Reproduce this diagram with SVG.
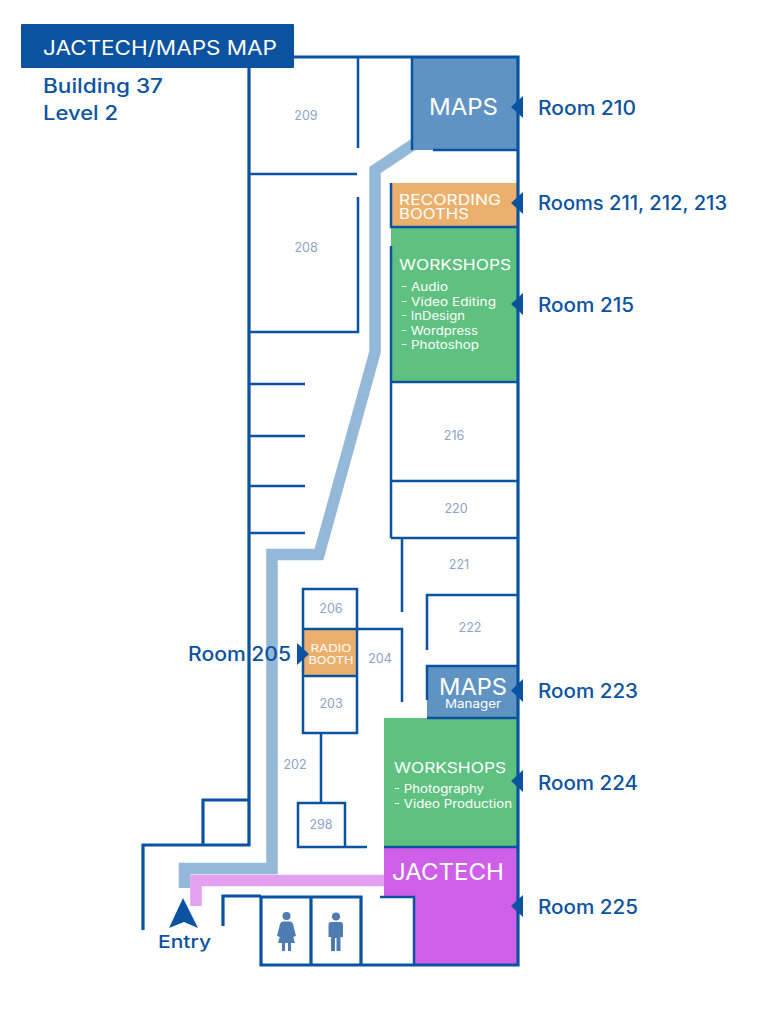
<svg xmlns="http://www.w3.org/2000/svg" width="766" height="1024" viewBox="0 0 766 1024">
<style>
text{font-family:Inter,"Liberation Sans",sans-serif}
.w{fill:none;stroke:#0b53a0;stroke-width:2.500}
.t{fill:none;stroke:#0b53a0;stroke-width:3.200}
.lab{fill:#0b53a0;font-size:19.500px;font-weight:500}
.num{fill:#8da3c7;font-size:12.500px;text-anchor:middle}
.h{fill:#fff;font-weight:400}
.li{fill:#fff;font-size:11.500px}
.mk{fill:#0b53a0}
.ic{fill:#4e7cb0}
</style>
<rect width="766" height="1024" fill="#fff"/>
<g id="connectors">
<path d="M184.500 888V868.500H272V554.500H319L375 352V170L420 140" fill="none" stroke="#94b8d8" stroke-width="11.500"/>
<path d="M196 906V880.500H390" fill="none" stroke="#e2a0f0" stroke-width="11.500"/>
</g>
<g id="rooms-filled">
<g id="room-210"><rect x="412" y="57" width="105" height="93" fill="#5f93c3"/><text class="h" x="429" y="115" font-size="23.500" textLength="69" lengthAdjust="spacingAndGlyphs">MAPS</text></g>
<g id="room-211-213"><rect x="391" y="183" width="126" height="44" fill="#ebb16c"/><text class="h" x="399" y="205" font-size="14.500" textLength="102" lengthAdjust="spacingAndGlyphs">RECORDING</text><text class="h" x="399" y="219" font-size="14.500" textLength="70" lengthAdjust="spacingAndGlyphs">BOOTHS</text></g>
<g id="room-215"><rect x="391" y="227" width="126" height="155" fill="#5ec17f"/><text class="h" x="399" y="270" font-size="15" textLength="112" lengthAdjust="spacingAndGlyphs">WORKSHOPS</text>
<text class="li" x="401" y="291" textLength="47" lengthAdjust="spacingAndGlyphs">- Audio</text><text class="li" x="401" y="306" textLength="95" lengthAdjust="spacingAndGlyphs">- Video Editing</text><text class="li" x="401" y="320" textLength="64" lengthAdjust="spacingAndGlyphs">- InDesign</text><text class="li" x="401" y="335" textLength="77" lengthAdjust="spacingAndGlyphs">- Wordpress</text><text class="li" x="401" y="349" textLength="78" lengthAdjust="spacingAndGlyphs">- Photoshop</text></g>
<g id="room-205"><rect x="303" y="629" width="54" height="47" fill="#ebb16c"/><text class="h" x="331" y="652" font-size="10.500" text-anchor="middle" textLength="41" lengthAdjust="spacingAndGlyphs">RADIO</text><text class="h" x="331" y="664" font-size="10.500" text-anchor="middle" textLength="45" lengthAdjust="spacingAndGlyphs">BOOTH</text></g>
<g id="room-223"><rect x="427" y="666" width="90" height="52" fill="#5f93c3"/><text class="h" x="439" y="695" font-size="23.500" textLength="68" lengthAdjust="spacingAndGlyphs">MAPS</text><text class="h" x="445" y="708" font-size="12" textLength="56" lengthAdjust="spacingAndGlyphs">Manager</text></g>
<g id="room-224"><rect x="384" y="718" width="133" height="129" fill="#5ec17f"/><text class="h" x="394" y="773" font-size="15" textLength="112" lengthAdjust="spacingAndGlyphs">WORKSHOPS</text><text class="li" x="394" y="793" textLength="90" lengthAdjust="spacingAndGlyphs">- Photography</text><text class="li" x="394" y="808" textLength="118" lengthAdjust="spacingAndGlyphs">- Video Production</text></g>
<g id="room-225"><path d="M384 847H517V965H414V897H384Z" fill="#cf5fe8"/><text class="h" x="392" y="880" font-size="23.500" textLength="112" lengthAdjust="spacingAndGlyphs">JACTECH</text></g>
</g>
<g id="walls">
<path class="t" d="M249 68V800H203V845M143 930V845H249V800M294 57H518V965H261V897H361V965M311 897V965M223 926V896H261"/>
<path class="w" d="M358 57V148M249 174H357M358 197V332H249M249 384H305M249 436H305M249 486H305M249 533H305"/>
<path class="w" d="M412 57V150M433 150H517M391 183V227H517M391 246V382H517M391 481H517M391 538H517M391 382V538"/>
<path class="w" d="M402 538V612M427 650V595H517M427 700V666H517M427 718H517M384 847H517"/>
<path class="w" d="M303 589H357V733H303ZM303 629H357M303 676H357M357 629H402V702M321 733V803M298 803H345V847H298ZM345 847H367"/>
<path class="w" d="M380 897H414V965"/>
</g>
<g id="title"><rect x="21" y="24" width="273" height="44" rx="1" fill="#0b53a0"/><text x="43" y="55" fill="#fff" font-size="19.500" font-weight="400" textLength="234" lengthAdjust="spacingAndGlyphs">JACTECH/MAPS MAP</text></g>
<g id="subtitle"><text class="lab" x="43" y="93" textLength="120" lengthAdjust="spacingAndGlyphs">Building 37</text><text class="lab" x="43" y="120" textLength="75" lengthAdjust="spacingAndGlyphs">Level 2</text></g>
<g id="room-numbers">
<text class="num" x="306" y="120">209</text><text class="num" x="306" y="252">208</text><text class="num" x="454" y="440">216</text><text class="num" x="456" y="513">220</text><text class="num" x="459" y="569">221</text><text class="num" x="470" y="632">222</text><text class="num" x="380" y="663">204</text><text class="num" x="331" y="613">206</text><text class="num" x="331" y="708">203</text><text class="num" x="295" y="769">202</text><text class="num" x="321" y="829">298</text>
</g>
<g id="markers">
<path class="mk" d="M523 96V118L511 107ZM523 192V214L511 203ZM523 293V315L511 304ZM523 679V702L511 690.500ZM523 770V792L511 781ZM523 895V917L511 906ZM297 643V665L309 654Z"/>
</g>
<g id="room-labels">
<text class="lab" x="538" y="115" textLength="98" lengthAdjust="spacingAndGlyphs">Room 210</text>
<text class="lab" x="538" y="210" textLength="189" lengthAdjust="spacingAndGlyphs">Rooms 211, 212, 213</text>
<text class="lab" x="538" y="312" textLength="96" lengthAdjust="spacingAndGlyphs">Room 215</text>
<text class="lab" x="188" y="661" textLength="103" lengthAdjust="spacingAndGlyphs">Room 205</text>
<text class="lab" x="538" y="698" textLength="100" lengthAdjust="spacingAndGlyphs">Room 223</text>
<text class="lab" x="538" y="790" textLength="100" lengthAdjust="spacingAndGlyphs">Room 224</text>
<text class="lab" x="538" y="914" textLength="100" lengthAdjust="spacingAndGlyphs">Room 225</text>
</g>
<g id="entry"><path class="mk" d="M183 898L198 928L184 922L169 928Z"/><text x="158" y="948" font-size="17.500" font-weight="500" fill="#0b53a0" textLength="53" lengthAdjust="spacingAndGlyphs">Entry</text></g>
<g id="restroom-women" class="ic"><circle cx="286.500" cy="916" r="4"/><path d="M283 921.500H290Q292 921.500 293 924L296 936L293 937L291 929L295 943H291V951H288V943H285V951H282V943H278L282 929L280 937L277 936L280 924Q281 921.500 283 921.500Z"/></g>
<g id="restroom-men" class="ic"><circle cx="336" cy="916.500" r="4"/><path d="M331 922H340.500Q343 922 343 925V937H340.500V951H336.500V938H335V951H331V937H328.500V925Q328.500 922 331 922Z"/></g>
</svg>
